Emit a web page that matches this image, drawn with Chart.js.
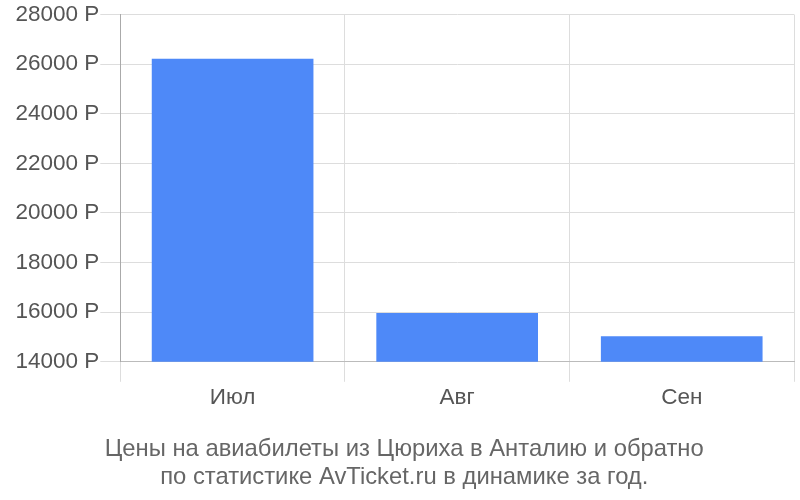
<!DOCTYPE html>
<html>
<head>
<meta charset="utf-8">
<script src="https://cdn.jsdelivr.net/npm/chart.js@4"></script>
<style>
  body { margin: 0; background: #fff; }
  #wrap { width: 800px; height: 500px; }
</style>
</head>
<body>
<div id="wrap"><canvas id="chart" width="800" height="500"></canvas></div>
<script>
const months = ["Июл", "Авг", "Сен"];
const prices = [26220, 15970, 15030];
const yMin = 14000;
const yMax = 28000;
const yStep = 2000;
const titleLines = [
  "Цены на авиабилеты из Цюриха в Анталию и обратно",
  "по статистике AvTicket.ru в динамике за год.",
];

const ctx = document.getElementById("chart").getContext("2d");

const chart = new Chart(ctx, {
  type: "bar",
  data: {
    labels: months,
    datasets: [
      {
        data: prices,
        backgroundColor: "#4e89f8",
        borderWidth: 0,
      },
    ],
  },
  options: {
    responsive: false,
    animation: false,
    layout: { padding: { right: 6, top: 4, left: 14.5, bottom: 9 } },
    plugins: {
      legend: { display: false },
      tooltip: { enabled: false },
      title: {
        display: true,
        position: "bottom",
        text: titleLines,
        color: "#666",
        font: { family: "Liberation Sans", size: 23.8, weight: "normal", lineHeight: 1.17 },
        padding: { top: 22.5, bottom: 0 },
      },
    },
    scales: {
      x: {
        grid: { color: "#dddddd", tickLength: 20, offset: true },
        border: { color: "#bbbbbb" },
        ticks: {
          color: "#555",
          font: { family: "Liberation Sans", size: 22.5 },
          padding: 2,
        },
      },
      y: {
        min: yMin,
        max: yMax,
        grid: { color: "#dddddd", tickLength: 20 },
        border: { color: "#aaaaaa" },
        ticks: {
          stepSize: yStep,
          color: "#555",
          font: { family: "Liberation Sans", size: 22.5 },
          padding: 1,
          callback: (v) => v + " Р",
        },
      },
    },
  },
});
</script>
</body>
</html>
